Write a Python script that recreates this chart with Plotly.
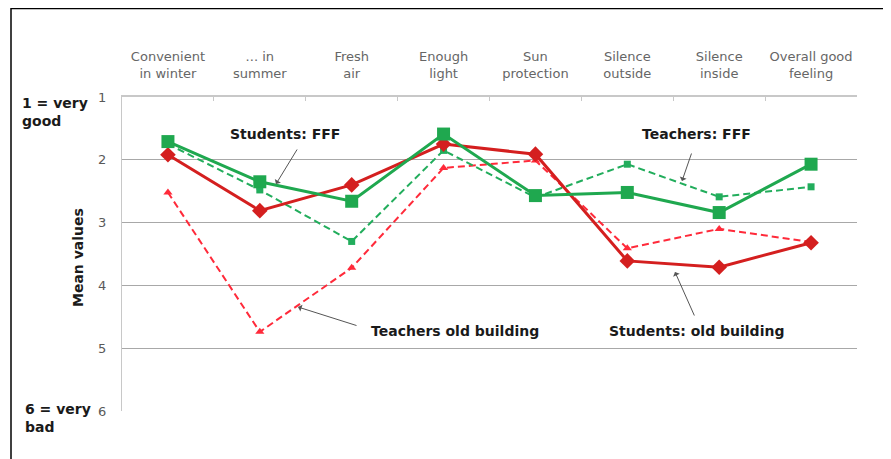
import plotly.graph_objects as go

categories = ["Convenient<br>in winter", "... in<br>summer", "Fresh<br>air", "Enough<br>light",
              "Sun<br>protection", "Silence<br>outside", "Silence<br>inside", "Overall good<br>feeling"]

students_fff = [1.71, 2.35, 2.66, 1.59, 2.57, 2.52, 2.84, 2.07]
students_old = [1.92, 2.81, 2.40, 1.75, 1.91, 3.61, 3.71, 3.32]
teachers_fff = [1.75, 2.48, 3.30, 1.85, 2.60, 2.07, 2.59, 2.43]
teachers_old = [2.52, 4.74, 3.72, 2.13, 2.01, 3.41, 3.10, 3.31]

y_ticks = [1, 2, 3, 4, 5, 6]

GREEN = "#1fa84f"
GREEN_D = "#22ad5c"
RED = "#d41f1f"
RED_D = "#ff2a3a"
FONT = "Liberation Sans, Arial, sans-serif"
FONT_W = "DejaVu Sans, Verdana, sans-serif"

# page body offset compensation (figure is placed at 8,8 in the page)
OX, OY = 8, 8
W, H = 891 - OX, 459 - OY
L, R, T, B = 122 - OX, 857 - OX, 97 - OY, 411 - OY


def px(xp):
    return (xp - OX - L) / (R - L)


def py(yp):
    return (B - (yp - OY)) / (B - T)


fig = go.Figure()
fig.add_trace(go.Scatter(x=categories, y=teachers_old, mode="lines+markers",
                         line=dict(color=RED_D, width=2, dash="7px,4px"),
                         marker=dict(symbol="triangle-up", size=8, color=RED_D),
                         name="Teachers old building"))
fig.add_trace(go.Scatter(x=categories, y=teachers_fff, mode="lines+markers",
                         line=dict(color=GREEN_D, width=2, dash="7px,4px"),
                         marker=dict(symbol="square", size=7, color=GREEN_D),
                         name="Teachers: FFF"))
fig.add_trace(go.Scatter(x=categories, y=students_old, mode="lines+markers",
                         line=dict(color=RED, width=3),
                         marker=dict(symbol="diamond", size=12, color=RED),
                         name="Students: old building"))
fig.add_trace(go.Scatter(x=categories, y=students_fff, mode="lines+markers",
                         line=dict(color=GREEN, width=3),
                         marker=dict(symbol="square", size=13, color=GREEN),
                         name="Students: FFF"))

annotations = []
bold = dict(family=FONT_W, size=14, color="#1a1a1a")


def label(text, xc, yc, align="center", xanchor="center"):
    annotations.append(dict(text=text, x=px(xc), y=py(yc), xref="paper", yref="paper",
                            showarrow=False, font=bold, align=align, xanchor=xanchor,
                            yanchor="middle"))


def arrow(tail, tip):
    annotations.append(dict(text="", x=px(tip[0]), y=py(tip[1]), xref="paper", yref="paper",
                            ax=tail[0] - tip[0], ay=tail[1] - tip[1], axref="pixel", ayref="pixel",
                            showarrow=True, arrowhead=1, arrowsize=1.2, arrowwidth=1,
                            arrowcolor="#555555"))


label("<b>Students: FFF</b>", 285, 134)
label("<b>Teachers: FFF</b>", 696, 134)
label("<b>Teachers old building</b>", 455, 331)
label("<b>Students: old building</b>", 696, 331)
label("<b>1 = very<br>good</b>", 20, 112, align="left", xanchor="left")
label("<b>6 = very<br>bad</b>", 23, 418, align="left", xanchor="left")
annotations.append(dict(text="<b>Mean values</b>", x=px(78), y=py(258), xref="paper", yref="paper",
                        showarrow=False, textangle=-90, font=bold, xanchor="center", yanchor="middle"))

arrow((298, 148), (276, 184))
arrow((692, 152), (682, 181))
arrow((358, 326), (298, 307))
arrow((695, 317), (675, 272))

shapes = [
    dict(type="line", xref="paper", yref="paper", x0=px(11), x1=px(11), y0=py(8), y1=py(470),
         line=dict(color="black", width=1.5)),
    dict(type="line", xref="paper", yref="paper", x0=px(11), x1=px(900), y0=py(8.5), y1=py(8.5),
         line=dict(color="black", width=1.5)),
]

fig.update_layout(
    width=W, height=H,
    margin=dict(l=L, r=W - R, t=T, b=H - B, autoexpand=False),
    paper_bgcolor="white", plot_bgcolor="white",
    showlegend=False,
    font=dict(family=FONT, size=13, color="#595959"),
    annotations=annotations,
    shapes=shapes,
    xaxis=dict(type="category", side="top", range=[-0.5, 7.5], tickangle=0, automargin=False,
               showgrid=False, showline=True, linecolor="#c8c8c8", linewidth=1.5,
               ticks="inside", ticklen=4, tickcolor="#c8c8c8", tickson="boundaries",
               tickfont=dict(family=FONT_W, size=13, color="#666666"),
               ticklabelstandoff=12, zeroline=False),
    yaxis=dict(range=[6, 1], tickvals=y_ticks, showgrid=True, gridcolor="#a8a8a8", gridwidth=1,
               showline=True, linecolor="#c8c8c8", linewidth=1, zeroline=False, automargin=False,
               ticks="", tickfont=dict(family=FONT_W, size=13, color="#595959"),
               ticklabelstandoff=12),
)

fig.write_html("out.html")
